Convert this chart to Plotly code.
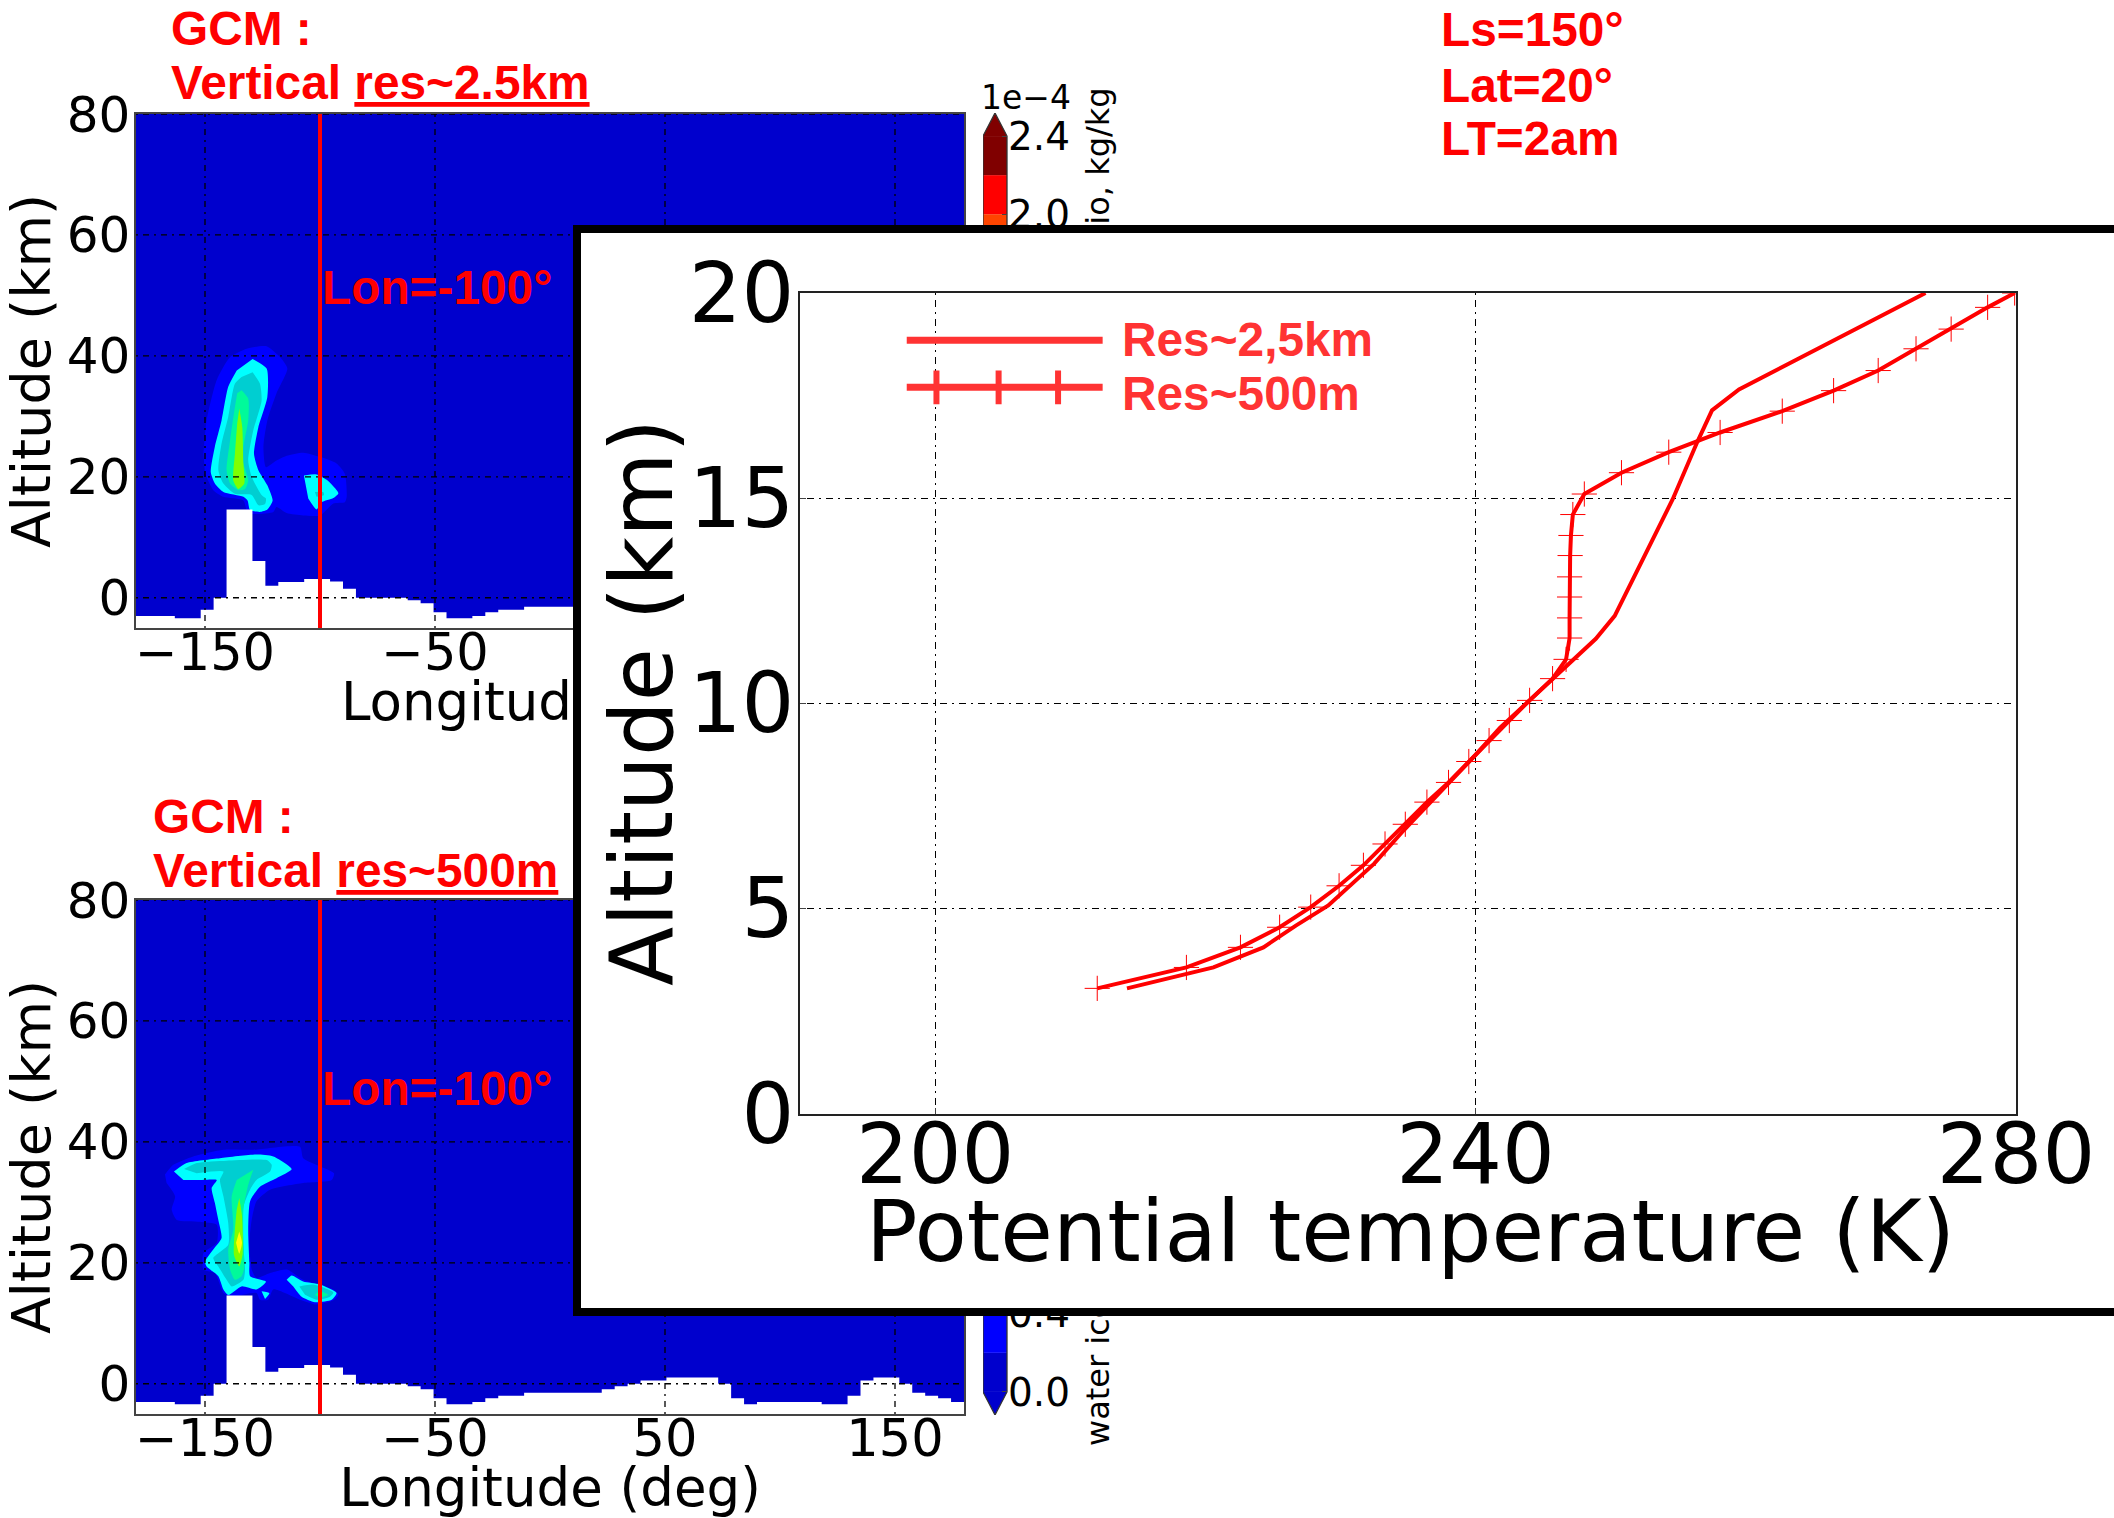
import numpy as np
import plotly.graph_objects as go

W, H = 2114, 1518
RED = "#ff0000"
LEG = "#ff3333"
SANS = "DejaVu Sans"
BOLD = "Liberation Sans"

# ---------- surface height per GCM column (km), from lon -180 eastwards
TERRAIN = [-3, -3, -3, -3.4, -3.4, -2, 0, 14.6, 14.6, 6.1, 2, 2.6, 2.6, 3.1, 3.1, 2.7,
           1.5, 0, 0, 0, 0, -0.4, -0.9, -2.4, -3.4, -3.4, -3, -2.4, -2, -2, -1.5, -1.5,
           -1.5, -1.5, -1.5, -1.5, -0.9, -0.4, 0, 0.55, 0.55, 1.05, 1.05, 1.05, 1.05, 0,
           -2.4, -3.4, -3, -3, -3, -3, -3, -3.4, -3.4, -2, 0.55, 1.05, 1.05, 0, -1.5, -2,
           -2.4, -3]
LON_STEP = 5.625
LON_RANGE = [-180, 180]
ALT_RANGE = [-5, 80]
LON_TICKS = [-150, -50, 50, 150]
ALT_TICKS = [0, 20, 40, 60, 80]
SECTION_LON = [-100, -100]

# ---------- ice cloud contour outlines, 2.5 km run (lon, alt)
A_L1_LON = [-150.7, -149.3, -144.9, -139.1, -131.9, -123.2, -117.4, -114.2, -118.9, -122.9, -124.6, -123.5, -118.9, -114.5, -107.3, -100, -92.8, -89.2, -88.4, -89.2, -94.2, -100, -107.3, -114.5, -118.9, -120.3, -130.4, -131.9, -133.3, -142, -146.4, -150]
A_L1_ALT = [23.8, 29.3, 36, 39.8, 41.2, 41.6, 39.8, 37.9, 33.8, 29.3, 25, 21.6, 22.7, 23.5, 24, 23.3, 22.2, 20.5, 16.7, 15.8, 15.6, 13.6, 13.6, 14, 15, 14.2, 13.9, 14.5, 16.1, 16.7, 17.8, 20.5]
A_L2_LON = [-129.3, -123.2, -122.9, -126.8, -128.7, -126.8, -122.9, -120.6, -122.9, -126.1, -130.4, -131.5, -133.3, -142, -145.7, -147.5, -145.7, -142.8, -139.9, -136.2]
A_L2_ALT = [39.5, 37.9, 33.2, 28.2, 23.8, 21.1, 18.6, 16.1, 14.6, 14.2, 14.5, 16.1, 16.7, 17.5, 18.9, 20.8, 25, 29.3, 34.9, 37.6]
A_L3_LON = [-129.3, -126.1, -125.4, -129, -131.2, -129.7, -125.4, -123.5, -123.9, -126.8, -129.7, -137, -142, -144.2, -142.8, -139.9, -137, -134.1]
A_L3_ALT = [37.3, 35.4, 32.6, 27.7, 22.7, 20, 17, 16.4, 15.5, 15.3, 17, 17.2, 18.9, 21.1, 25.5, 29.9, 35.4, 36.5]
A_L4_LON = [-134.1, -131.2, -131.2, -133.3, -133.3, -131.2, -132.6, -135.5, -139.1, -140.6, -139.1, -137, -136]
A_L4_ALT = [34.3, 32.9, 29.3, 25, 22.2, 19.4, 18, 17.8, 18.9, 21.1, 26, 31.5, 33.8]
A_L5_LON = [-135.1, -133.8, -133.3, -132.9, -135.5, -137.7, -137, -136]
A_L5_ALT = [31.3, 28.2, 22.2, 18.9, 18, 19.4, 23.8, 28.8]
A_L2B_LON = [-107, -101.5, -97.1, -92, -94.2, -99.3, -101.5, -105.1]
A_L2B_ALT = [20.2, 20.4, 19.5, 17.3, 16.5, 15.8, 14.6, 16.4]
A_L3B_LON = [-102.2, -98.6, -98.3, -101.5]
A_L3B_ALT = [17.5, 17.5, 17, 16.7]

# ---------- ice cloud contour outlines, 500 m run (lon, alt)
B_L1_LON = [-167.4, -163.8, -155.1, -142, -129, -108.7, -107.3, -93.9, -94.9, -107.3, -121.7, -127.6, -129.7, -130.7, -129.7, -127.6, -121.7, -114.5, -107.3, -94.2, -92, -94.2, -101.5, -108.7, -120.3, -122.5, -126.1, -127.6, -139.1, -142, -145.7, -150.7, -150.7, -144.9, -144.9, -152.2, -162.3, -164.5, -163, -166.7]
B_L1_ALT = [34.6, 36.2, 37.6, 38.7, 38.7, 39.2, 37.3, 34.8, 33.7, 33.2, 32.1, 30.2, 27.1, 23.3, 18.9, 17.5, 18.3, 18.9, 17.2, 15.6, 14.7, 13.8, 13.1, 13.9, 15.6, 13.9, 13.9, 15, 14.4, 15, 18.3, 18.9, 21.6, 23.3, 26.3, 26.8, 27.1, 28.8, 31, 33.2]
B_L2_LON = [-163.5, -158, -143.5, -127.6, -120.3, -112.3, -118.9, -126.1, -130.4, -131.2, -130.7, -130.4, -123.5, -127.6, -134.1, -139.9, -142, -144.2, -149.3, -150, -146.4, -142.8, -144.2, -145.7, -147.1, -144.9, -152.2, -159.4]
B_L2_ALT = [35.1, 36.5, 37.3, 37.9, 37.6, 35.5, 34, 32.6, 30.2, 25.5, 20, 17.8, 16.9, 15.6, 16.1, 14.7, 15.6, 17.8, 19.4, 20.2, 22.2, 24.1, 27.1, 29.9, 32.4, 33.7, 33.7, 33.7]
B_L3_LON = [-159.1, -153.6, -140.6, -123.2, -121, -121.7, -127.6, -130.4, -133.3, -133.3, -132.6, -133.3, -138.4, -140.6, -144.2, -146.4, -139.9, -139.9, -142, -143.5, -142, -153.6]
B_L3_ALT = [35.5, 36.5, 36.9, 37, 36.2, 35.1, 33.7, 32.1, 29.3, 22.7, 18.9, 17.2, 16.1, 17.2, 19.4, 20.8, 23, 26.6, 31, 33.7, 35.1, 34.8]
B_L4_LON = [-129, -131.2, -133.3, -133.3, -133, -134.1, -137, -139.1, -139.9, -137.7, -138.4, -136.2]
B_L4_ALT = [35.4, 32.9, 28.8, 23.3, 19.1, 17.8, 17.2, 18.9, 22.2, 25.5, 31, 33.7]
B_L5_LON = [-135.1, -133.9, -133.6, -135.1, -137.4, -137, -136.2]
B_L5_ALT = [30.7, 27.7, 21.6, 19.4, 21.3, 25.5, 28.8]
B_L6_LON = [-135.1, -133.9, -135.1, -136.5]
B_L6_ALT = [25.2, 23.3, 21.5, 23.3]
B_L2C_LON = [-125.4, -122, -123.9]
B_L2C_ALT = [15.3, 15, 14]
B_L2B_LON = [-114.5, -112.3, -107.3, -100, -92.8, -94.9, -102.2, -108, -111.6]
B_L2B_ALT = [17.2, 17.9, 16.9, 16.4, 15, 13.9, 13.5, 14.4, 16.1]
B_L3B_LON = [-109, -102.9, -94.2, -95.7, -101.5, -106.5]
B_L3B_ALT = [16.1, 16.4, 15.1, 14.4, 13.9, 14.7]
B_L4B_LON = [-102.2, -100, -96.4, -100]
B_L4B_ALT = [14.7, 15.3, 14.7, 14.2]

# ---------- colour scale
CB_LEVELS = [0.0, 0.2, 0.4, 0.6, 0.8, 1.0, 1.2, 1.4, 1.6, 1.8, 2.0, 2.2, 2.4]
CB_COLORS = ["#0000cd", "#0000ff", "#00ffff", "#00ced1", "#00fa9a", "#7fff00",
             "#ffff00", "#ffd700", "#ffa500", "#ff4500", "#ff0000", "#800000"]
CB_TICKS = [0.0, 0.4, 0.8, 1.2, 1.6, 2.0, 2.4]
CB_RANGE = [-0.118, 2.518]

# ---------- inset profiles
T_25KM = [214.2, 220.6, 224.3, 226.7, 229.1, 232.5, 234.7, 237.8, 240, 241.8, 245.7, 248.9, 250.3, 254.6, 256.4, 257.5, 259.5, 273.3]
Z_25KM = [3.05, 3.56, 4.05, 4.58, 5.07, 6.09, 6.91, 7.97, 8.74, 9.4, 10.6, 11.57, 12.13, 14.98, 16.36, 17.14, 17.65, 20]
T_500M = [212, 218.6, 222.6, 225.5, 227.8, 229.9, 231.7, 233.3, 234.8, 236.4, 238, 239.5, 241, 242.5, 244, 245.7, 246.7, 246.96, 246.96, 246.96, 246.96, 247, 247.06, 247.2, 248.05, 250.8, 254.3, 258.1, 262.7, 266.5, 269.8, 272.6, 275.2, 277.9, 279.9]
Z_500M = [3.05, 3.56, 4.05, 4.54, 5.03, 5.55, 6.05, 6.57, 7.05, 7.59, 8.07, 8.58, 9.09, 9.58, 10.07, 10.6, 11.07, 11.59, 12.08, 12.59, 13.08, 13.6, 14.09, 14.6, 15.1, 15.62, 16.12, 16.6, 17.12, 17.62, 18.11, 18.64, 19.12, 19.65, 20]
T_TICKS = [200, 240, 280]
Z_TICKS = [0, 5, 10, 15, 20]
LEG_KEY_T = [197.9, 212.4]
LEG_KEY_Z1 = [18.85, 18.85]
LEG_KEY_Z2 = [17.7, 17.7]
LEG_MARK_T = [200.1, 204.7, 209.1]
LEG_MARK_Z = [17.7, 17.7, 17.7]


def fx(p):
    return p / W


def fy(p):
    return 1 - p / H


fig = go.Figure()


def blob(lon, alt, color, ax):
    fig.add_trace(go.Scatter(x=lon, y=alt, mode="lines", fill="toself", fillcolor=color,
                             line=dict(width=0, shape="spline", smoothing=0.6),
                             xaxis=f"x{ax}", yaxis=f"y{ax}", showlegend=False, hoverinfo="skip"))


def panel(ax, layers):
    blob([LON_RANGE[0], LON_RANGE[1], LON_RANGE[1], LON_RANGE[0]],
         [ALT_RANGE[0], ALT_RANGE[0], ALT_RANGE[1], ALT_RANGE[1]], CB_COLORS[0], ax)
    for lon, alt, col in layers:
        blob(lon, alt, col, ax)
    edges = LON_RANGE[0] + LON_STEP * np.arange(len(TERRAIN) + 1)
    tx = np.repeat(edges, 2)[1:-1]
    ty = np.repeat(TERRAIN, 2)
    tx = np.concatenate([[LON_RANGE[0]], tx, [LON_RANGE[1]]])
    ty = np.concatenate([[ALT_RANGE[0]], ty, [ALT_RANGE[0]]])
    fig.add_trace(go.Scatter(x=tx, y=ty, mode="lines", fill="toself", fillcolor="white",
                             line=dict(width=0), xaxis=f"x{ax}", yaxis=f"y{ax}",
                             showlegend=False, hoverinfo="skip", name="Surface"))
    dash = "2px,5px,6px,5px"
    for t in LON_TICKS:
        fig.add_trace(go.Scatter(x=[t, t], y=ALT_RANGE, mode="lines",
                                 line=dict(color="black", width=1.3, dash=dash),
                                 xaxis=f"x{ax}", yaxis=f"y{ax}", showlegend=False, hoverinfo="skip"))
    for t in ALT_TICKS:
        fig.add_trace(go.Scatter(x=LON_RANGE, y=[t, t], mode="lines",
                                 line=dict(color="black", width=1.3, dash=dash),
                                 xaxis=f"x{ax}", yaxis=f"y{ax}", showlegend=False, hoverinfo="skip"))
    fig.add_trace(go.Scatter(x=SECTION_LON, y=ALT_RANGE, mode="lines",
                             line=dict(color=RED, width=4),
                             xaxis=f"x{ax}", yaxis=f"y{ax}", showlegend=False, hoverinfo="skip"))


def colorbar(ax):
    low = CB_LEVELS[:-1]
    fig.add_trace(go.Bar(x=[0.5] * len(low), y=np.diff(CB_LEVELS), base=low, width=1,
                         marker=dict(color=CB_COLORS, line=dict(width=0)),
                         xaxis=f"x{ax}", yaxis=f"y{ax}", showlegend=False, hoverinfo="skip"))
    for xs, ys, col in [([0, 0.5, 1], [CB_LEVELS[-1], CB_RANGE[1], CB_LEVELS[-1]], CB_COLORS[-1]),
                        ([0, 0.5, 1], [CB_LEVELS[0], CB_RANGE[0], CB_LEVELS[0]], CB_COLORS[0])]:
        fig.add_trace(go.Scatter(x=xs, y=ys, mode="lines", fill="toself", fillcolor=col,
                                 line=dict(width=0), cliponaxis=False,
                                 xaxis=f"x{ax}", yaxis=f"y{ax}", showlegend=False, hoverinfo="skip"))
    fig.add_trace(go.Scatter(
        x=[0, 0.5, 1, 1, 0.5, 0, 0],
        y=[CB_LEVELS[-1], CB_RANGE[1], CB_LEVELS[-1], CB_LEVELS[0], CB_RANGE[0], CB_LEVELS[0], CB_LEVELS[-1]],
        mode="lines", line=dict(color="#333333", width=1.3), cliponaxis=False,
        xaxis=f"x{ax}", yaxis=f"y{ax}", showlegend=False, hoverinfo="skip"))


panel("", [
    (A_L1_LON, A_L1_ALT, CB_COLORS[1]), (A_L2_LON, A_L2_ALT, CB_COLORS[2]),
    (A_L3_LON, A_L3_ALT, CB_COLORS[3]), (A_L4_LON, A_L4_ALT, CB_COLORS[4]),
    (A_L5_LON, A_L5_ALT, CB_COLORS[5]), (A_L2B_LON, A_L2B_ALT, CB_COLORS[2]),
    (A_L3B_LON, A_L3B_ALT, CB_COLORS[3]),
])
panel("2", [
    (B_L1_LON, B_L1_ALT, CB_COLORS[1]), (B_L2_LON, B_L2_ALT, CB_COLORS[2]),
    (B_L3_LON, B_L3_ALT, CB_COLORS[3]), (B_L4_LON, B_L4_ALT, CB_COLORS[4]),
    (B_L5_LON, B_L5_ALT, CB_COLORS[5]), (B_L6_LON, B_L6_ALT, CB_COLORS[6]),
    (B_L2C_LON, B_L2C_ALT, CB_COLORS[2]), (B_L2B_LON, B_L2B_ALT, CB_COLORS[2]),
    (B_L3B_LON, B_L3B_ALT, CB_COLORS[3]), (B_L4B_LON, B_L4B_ALT, CB_COLORS[4]),
])
colorbar("3")
colorbar("4")
fig.add_trace(go.Scatter(x=[], y=[], xaxis="x5", yaxis="y5", showlegend=False))

fig.add_trace(go.Scatter(x=T_25KM, y=Z_25KM, mode="lines", name="Res~2,5km",
                         line=dict(color=RED, width=4), xaxis="x6", yaxis="y6", showlegend=False))
fig.add_trace(go.Scatter(x=T_500M, y=Z_500M, mode="lines+markers", name="Res~500m",
                         line=dict(color=RED, width=4),
                         marker=dict(symbol="cross-thin", size=18, line=dict(color=RED, width=1)),
                         xaxis="x6", yaxis="y6", showlegend=False))
fig.add_trace(go.Scatter(x=LEG_KEY_T, y=LEG_KEY_Z1, mode="lines", line=dict(color=LEG, width=7),
                         xaxis="x6", yaxis="y6", showlegend=False, hoverinfo="skip"))
fig.add_trace(go.Scatter(x=LEG_KEY_T, y=LEG_KEY_Z2, mode="lines", line=dict(color=LEG, width=7),
                         xaxis="x6", yaxis="y6", showlegend=False, hoverinfo="skip"))
fig.add_trace(go.Scatter(x=LEG_MARK_T, y=LEG_MARK_Z, mode="markers",
                         marker=dict(symbol="line-ns", size=24, line=dict(color=LEG, width=6)),
                         xaxis="x6", yaxis="y6", showlegend=False, hoverinfo="skip"))

panel_x = dict(domain=[fx(136), fx(964)], range=LON_RANGE, tickvals=LON_TICKS, ticks="",
               tickfont=dict(family=SANS, size=51, color="black"), showgrid=False, zeroline=False,
               showline=True, linecolor="#444444", linewidth=1.5, mirror=True, ticklabelstandoff=-21)
panel_y = dict(range=ALT_RANGE, tickvals=ALT_TICKS, ticks="",
               tickfont=dict(family=SANS, size=50, color="black"), showgrid=False, zeroline=False,
               showline=True, linecolor="#444444", linewidth=1.5, mirror=True, ticklabelstandoff=-6,
               automargin=True,
               title=dict(text="Altitude (km)", font=dict(family=SANS, size=54, color="black"), standoff=7))
cb_y = dict(range=CB_RANGE, tickvals=CB_TICKS, ticktext=[f"{v:.1f}" for v in CB_TICKS],
            tickfont=dict(family=SANS, size=39, color="black"), ticks="inside", ticklen=5,
            showgrid=False, zeroline=False, showline=False, side="right", anchor="free",
            position=fx(1007))
cb_x_common = dict(domain=[fx(983), fx(1120)], range=[0, 137 / 24], tickvals=[4.83], tickangle=-90,
                   tickfont=dict(family=SANS, size=32, color="black"), ticks="", showgrid=False,
                   zeroline=False, showline=False, anchor="free")
ins_axis = dict(tickfont=dict(family=SANS, size=83, color="black"), ticks="inside", ticklen=6,
                showgrid=True, gridcolor="black", gridwidth=1.3, griddash="2px,5px,7px,5px",
                zeroline=False, showline=True, linecolor="#222222", linewidth=2, mirror=True)

layout = dict(
    width=W, height=H, margin=dict(l=0, r=0, t=0, b=0, autoexpand=False), paper_bgcolor="white", plot_bgcolor="white",
    showlegend=False, barmode="overlay",
    xaxis=dict(panel_x, anchor="y"),
    yaxis=dict(panel_y, domain=[fy(628), fy(114)], anchor="x"),
    xaxis2=dict(panel_x, anchor="y2", automargin=True,
                title=dict(text="Longitude (deg)", font=dict(family=SANS, size=53, color="black"), standoff=8)),
    yaxis2=dict(panel_y, domain=[fy(1414), fy(900)], anchor="x2"),
    xaxis3=dict(cb_x_common, ticktext=["ratio, kg/kg"], side="bottom", position=fy(80)),
    yaxis3=dict(cb_y, domain=[fy(628), fy(113)]),
    xaxis4=dict(cb_x_common, ticktext=["water ice"], side="top", position=fy(1446)),
    yaxis4=dict(cb_y, domain=[fy(1415), fy(900)]),
    xaxis5=dict(domain=[fx(581), 1], range=[0, 1], anchor="y5", showticklabels=False, ticks="", showgrid=False,
                zeroline=False, showline=True, linecolor="black", linewidth=8, mirror=True),
    yaxis5=dict(domain=[fy(1308), fy(233)], range=[0, 1], anchor="x5", showticklabels=False, ticks="", showgrid=False,
                zeroline=False, showline=True, linecolor="black", linewidth=8),
    xaxis6=dict(ins_axis, domain=[fx(800), fx(2016)], range=[190, 280], tickvals=T_TICKS, anchor="y6",
                ticklabelstandoff=-32),
    yaxis6=dict(ins_axis, domain=[fy(1113.5), fy(293)], range=[0, 20], tickvals=Z_TICKS, anchor="x6",
                ticklabelstandoff=-13),
)
fig.update_layout(**layout)


def note(text, px, py, size=47.8, color=RED, family=BOLD, bold=True, anchor="left", angle=0):
    fig.add_annotation(text=f"<b>{text}</b>" if bold else text, x=fx(px), y=fy(py), xref="paper", yref="paper",
                       xanchor=anchor, yanchor="middle", showarrow=False, textangle=angle,
                       font=dict(family=family, size=size, color=color), borderpad=0)


note("GCM :", 170, 29)
note("Vertical <u>res~2.5km</u>", 170, 83)
note("GCM :", 152, 816)
note("Vertical <u>res~500m</u>", 152, 870)
note("Lon=-100°", 321, 287)
note("Lon=-100°", 321, 1088)
note("Ls=150°", 1440, 30)
note("Lat=20°", 1440, 85)
note("LT=2am", 1440, 139)
note("Res~2,5km", 1121, 339, color=LEG)
note("Res~500m", 1121, 393, color=LEG)
note("1e−4", 980, 97, size=33, color="black", family=SANS, bold=False)
note("Longitud", 340, 701, size=53, color="black", family=SANS, bold=False)
note("Potential temperature (K)", 1410, 1231, size=85.5, color="black", family=SANS, bold=False, anchor="center")
note("Altitude (km)", 642, 702, size=86.5, color="black", family=SANS, bold=False, anchor="center", angle=-90)

fig.write_html("out.html", post_script="document.body.style.margin='0';", config={"displayModeBar": False})
